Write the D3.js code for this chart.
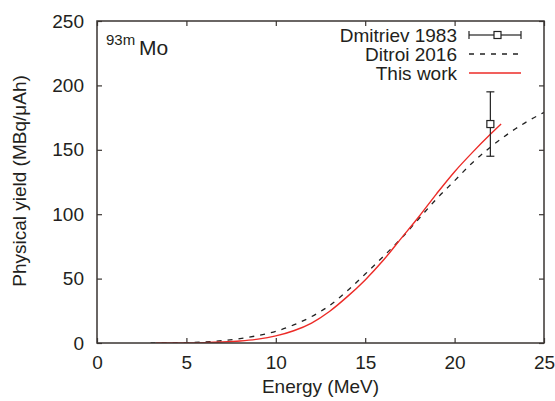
<!DOCTYPE html>
<html>
<head>
<meta charset="utf-8">
<script src="https://cdn.jsdelivr.net/npm/d3@7"></script>
<style>
  body { margin: 0; background: #fff; }
  svg { display: block; font-family: "Liberation Sans", Arial, sans-serif; }
</style>
</head>
<body>
<div id="graphic"></div>
<script>
// data
const thisWorkE = [3.3, 5, 6, 7, 8, 9, 10, 11, 12, 13, 14, 15, 16, 17, 18, 19, 20, 21, 22, 22.6];
const thisWorkY = [0, 0.1, 0.3, 0.8, 1.6, 3, 5.5, 9.5, 15.5, 24.5, 36, 49, 64, 81, 98, 116, 133, 148, 162, 170];

const ditroiE = [3, 5, 6, 7, 8, 9, 10, 11, 12, 13, 14, 15, 16, 17, 18, 19, 20, 21, 22, 23, 24, 25];
const ditroiY = [0, 0.3, 0.8, 1.8, 3.4, 5.8, 9, 14, 20.5, 29, 40.5, 53.5, 67, 81, 96.5, 112, 126, 140, 152, 162.5, 171.5, 179];

const dmitrievE = [22];
const dmitrievY = [170];
const dmitrievErr = [25];

const xTicks = [0, 5, 10, 15, 20, 25];
const yTicks = [0, 50, 100, 150, 200, 250];

const width = 555, height = 401;
const margin = {top: 21, right: 11, bottom: 58, left: 97};
const axisColor = "#3a3532";
const textColor = "#231f20";
const red = "#ec2b27";
const fontSize = "19px";

const x = d3.scaleLinear().domain([0, 25]).range([margin.left, width - margin.right]);
const y = d3.scaleLinear().domain([0, 250]).range([height - margin.bottom, margin.top]);

const svg = d3.select("#graphic").append("svg")
    .attr("width", width)
    .attr("height", height);

// AXES (ticks point inward, mirrored on top/right)
const fmt = d3.format("d");
const gx = svg.append("g")
    .attr("transform", `translate(0,${y(0)})`)
    .call(d3.axisBottom(x).tickValues(xTicks).tickFormat(fmt).tickSizeInner(-5).tickSizeOuter(0).tickPadding(13));
const gxTop = svg.append("g")
    .attr("transform", `translate(0,${y(250)})`)
    .call(d3.axisTop(x).tickValues(xTicks).tickFormat("").tickSizeInner(-5).tickSizeOuter(0));
const gy = svg.append("g")
    .attr("transform", `translate(${x(0)},0)`)
    .call(d3.axisLeft(y).tickValues(yTicks).tickFormat(fmt).tickSizeInner(-5).tickSizeOuter(0).tickPadding(13));
const gyRight = svg.append("g")
    .attr("transform", `translate(${x(25)},0)`)
    .call(d3.axisRight(y).tickValues(yTicks).tickFormat("").tickSizeInner(-5).tickSizeOuter(0));

[gx, gxTop, gy, gyRight].forEach(g => {
    g.select(".domain").remove();
    g.selectAll("line").attr("stroke", axisColor).attr("stroke-width", 1.2);
    g.selectAll("text").attr("fill", textColor).style("font-size", fontSize).style("font-family", "'Liberation Sans', Arial, sans-serif");
});

// CURVES
svg.append("clipPath").attr("id", "clip")
    .append("rect")
    .attr("x", x(0)).attr("y", y(250))
    .attr("width", x(25) - x(0)).attr("height", y(0) - y(250));

const line = d3.line()
    .x(d => x(d[0]))
    .y(d => y(d[1]))
    .curve(d3.curveMonotoneX);

svg.append("path")
    .datum(d3.zip(ditroiE, ditroiY))
    .attr("clip-path", "url(#clip)")
    .attr("fill", "none")
    .attr("stroke", "#222")
    .attr("stroke-width", 1.3)
    .attr("stroke-dasharray", "5,6")
    .attr("d", line);

svg.append("path")
    .datum(d3.zip(thisWorkE, thisWorkY))
    .attr("clip-path", "url(#clip)")
    .attr("fill", "none")
    .attr("stroke", red)
    .attr("stroke-width", 1.4)
    .attr("d", line);

// DMITRIEV POINT with error bar
const pts = svg.append("g").attr("stroke", "#222").attr("stroke-width", 1.2).attr("fill", "none");
dmitrievE.forEach((e, i) => {
    const cx = x(e), cy = y(dmitrievY[i]);
    const y1 = y(dmitrievY[i] + dmitrievErr[i]), y2 = y(dmitrievY[i] - dmitrievErr[i]);
    pts.append("line").attr("x1", cx).attr("x2", cx).attr("y1", y1).attr("y2", cy - 3.5);
    pts.append("line").attr("x1", cx).attr("x2", cx).attr("y1", cy + 3.5).attr("y2", y2);
    pts.append("line").attr("x1", cx - 4).attr("x2", cx + 4).attr("y1", y1).attr("y2", y1);
    pts.append("line").attr("x1", cx - 4).attr("x2", cx + 4).attr("y1", y2).attr("y2", y2);
    pts.append("rect").attr("x", cx - 3.5).attr("y", cy - 3.5).attr("width", 7).attr("height", 7);
});

// FRAME
svg.append("rect")
    .attr("x", x(0)).attr("y", y(250))
    .attr("width", x(25) - x(0)).attr("height", y(0) - y(250))
    .attr("fill", "none")
    .attr("stroke", axisColor)
    .attr("stroke-width", 1.5);

// LEGEND
const legendItems = ["Dmitriev 1983", "Ditroi 2016", "This work"];
const legend = svg.append("g");
legendItems.forEach((name, i) => {
    const ly = 35 + i * 19;
    legend.append("text")
        .attr("x", 457).attr("y", ly)
        .attr("dy", "0.35em")
        .attr("text-anchor", "end")
        .attr("fill", textColor)
        .style("font-size", fontSize)
        .text(name);
    if (i === 0) {
        const g = legend.append("g").attr("stroke", "#222").attr("stroke-width", 1.2).attr("fill", "none");
        g.append("line").attr("x1", 469).attr("x2", 494).attr("y1", ly).attr("y2", ly);
        g.append("line").attr("x1", 501).attr("x2", 521).attr("y1", ly).attr("y2", ly);
        g.append("line").attr("x1", 469).attr("x2", 469).attr("y1", ly - 4).attr("y2", ly + 4);
        g.append("line").attr("x1", 521).attr("x2", 521).attr("y1", ly - 4).attr("y2", ly + 4);
        g.append("rect").attr("x", 494).attr("y", ly - 3.5).attr("width", 7).attr("height", 7);
    } else if (i === 1) {
        legend.append("line").attr("x1", 469).attr("x2", 521).attr("y1", ly).attr("y2", ly)
            .attr("stroke", "#222").attr("stroke-width", 1.3).attr("stroke-dasharray", "5,6");
    } else {
        legend.append("line").attr("x1", 469).attr("x2", 521).attr("y1", ly).attr("y2", ly)
            .attr("stroke", red).attr("stroke-width", 1.4);
    }
});

// ISOTOPE LABEL
svg.append("text").attr("x", 106).attr("y", 45).attr("fill", textColor)
    .style("font-size", "15px").text("93m");
svg.append("text").attr("x", 139).attr("y", 55).attr("fill", textColor)
    .style("font-size", "21px").text("Mo");

// AXIS TITLES
svg.append("text")
    .attr("x", (x(0) + x(25)) / 2).attr("y", 393)
    .attr("text-anchor", "middle")
    .attr("fill", textColor)
    .style("font-size", fontSize)
    .text("Energy (MeV)");

svg.append("text")
    .attr("transform", `translate(26,${(y(0) + y(250)) / 2 - 1}) rotate(-90)`)
    .attr("text-anchor", "middle")
    .attr("fill", textColor)
    .style("font-size", fontSize)
    .text("Physical yield (MBq/\u03bcAh)");
</script>
</body>
</html>
